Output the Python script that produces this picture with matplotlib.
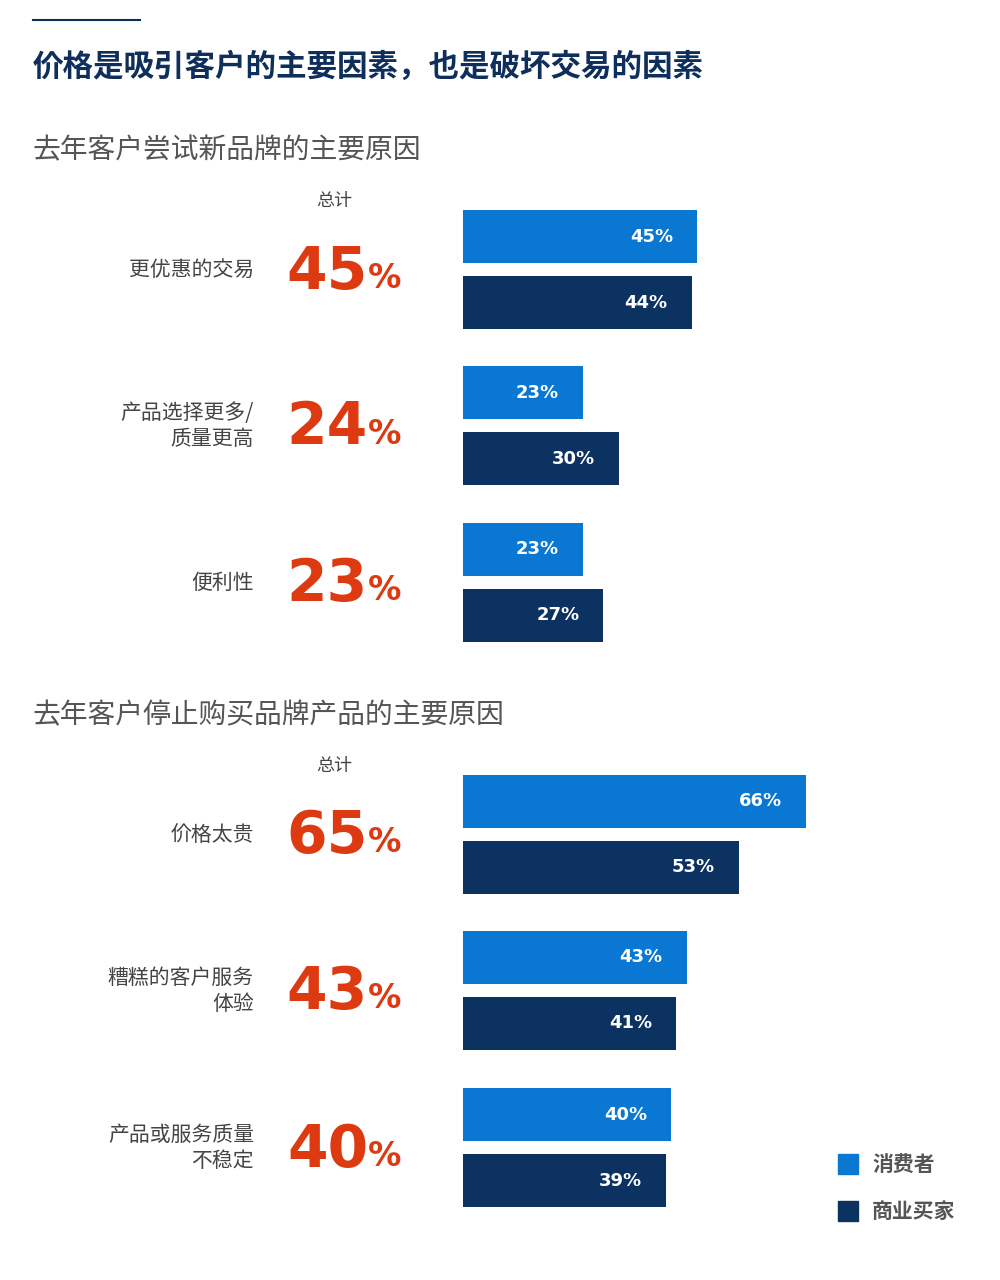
import matplotlib
matplotlib.use("Agg")
import matplotlib.pyplot as plt
from matplotlib.patches import Rectangle
from matplotlib import font_manager as fm

cjk = None
for f in fm.findSystemFonts():
    n = f.lower()
    if "notosanscjk" in n.replace(" ", "").replace("-", "") or "notosanscjk" in n.replace("_", ""):
        if "bold" not in n and ("regular" in n or cjk is None):
            cjk = f
cjk_bold = None
for f in fm.findSystemFonts():
    n = f.lower().replace("-", "")
    if "notosanscjk" in n and "bold" in n:
        cjk_bold = f
        break
if cjk:
    fm.fontManager.addfont(cjk)
if cjk_bold:
    fm.fontManager.addfont(cjk_bold)
FP = fm.FontProperties(fname=cjk) if cjk else fm.FontProperties(family="Noto Sans CJK SC")
FPB = fm.FontProperties(fname=cjk_bold) if cjk_bold else FP

title = "价格是吸引客户的主要因素，也是破坏交易的因素"
sec_titles = ["去年客户尝试新品牌的主要原因", "去年客户停止购买品牌产品的主要原因"]
cats1 = ["更优惠的交易", "产品选择更多/\n质量更高", "便利性"]
total1 = [45, 24, 23]
consumer1 = [45, 23, 23]
business1 = [44, 30, 27]
cats2 = ["价格太贵", "糟糕的客户服务\n体验", "产品或服务质量\n不稳定"]
total2 = [65, 43, 40]
consumer2 = [66, 43, 40]
business2 = [53, 41, 39]
legend_labels = ["消费者", "商业买家"]

C_LIGHT = "#0a78d2"
C_DARK = "#0b3261"
C_RED = "#de3a12"
C_NAVY = "#0e2e5c"
C_GRAY = "#444444"

W, H = 1000, 1280
fig = plt.figure(figsize=(10, 12.8), dpi=100)
ax = fig.add_axes([0, 0, 1, 1])
PX = 5.2
X0 = 463
ax.set_xlim(-X0 / PX, (W - X0) / PX)
ax.set_ylim(H, 0)
ax.axis("off")

def px(x):
    return (x - X0) / PX

def fp(size, bold=False):
    p = (FPB if bold else FP).copy()
    p.set_size(size)
    if bold and not cjk_bold:
        p.set_weight("bold")
    return p

ax.plot([px(33), px(140)], [20, 20], color=C_NAVY, lw=1.5)
ax.text(px(33), 67, title, fontproperties=fp(22, True), color=C_NAVY, va="center")

def section(ys, cats, total, cons, bus, sec_y, title_txt):
    ax.text(px(33), sec_y, title_txt, fontproperties=fp(20), color="#555555", va="center")
    ax.text(px(334), sec_y + 51, "总计", fontproperties=fp(13), color=C_GRAY, va="center", ha="center")
    for y0, c, t, a, b in zip(ys, cats, total, cons, bus):
        ax.barh(y0 + 26.5, a, height=53, left=0, color=C_LIGHT)
        ax.barh(y0 + 92.5, b, height=53, left=0, color=C_DARK)
        for v, yy in ((a, y0 + 26.5), (b, y0 + 92.5)):
            ax.text(v - 24 / PX, yy, f"{v}%", color="white", fontsize=13, fontweight="bold",
                    ha="right", va="center", fontfamily="DejaVu Sans")
        cy = y0 + 60
        ax.text(px(254), cy, c, fontproperties=fp(15), color=C_GRAY, ha="right", va="center",
                linespacing=1.2)
        ax.text(px(368), cy + 2, str(t), fontsize=42, fontweight="bold", color=C_RED,
                ha="right", va="center", fontfamily="DejaVu Sans")
        ax.text(px(368), cy + 8, "%", fontsize=24, fontweight="bold", color=C_RED,
                ha="left", va="center", fontfamily="DejaVu Sans")

section([210, 366, 523], cats1, total1, consumer1, business1, 150, sec_titles[0])
section([775, 931, 1088], cats2, total2, consumer2, business2, 715, sec_titles[1])

for (yy, col, lab) in ((1164, C_LIGHT, legend_labels[0]), (1211, C_DARK, legend_labels[1])):
    ax.add_patch(Rectangle((px(838), yy - 10), 20 / PX, 20, color=col))
    ax.text(px(872), yy, lab, fontproperties=fp(15, True), color="#555555", va="center")

fig.savefig("out.png", dpi=100, facecolor="white")
